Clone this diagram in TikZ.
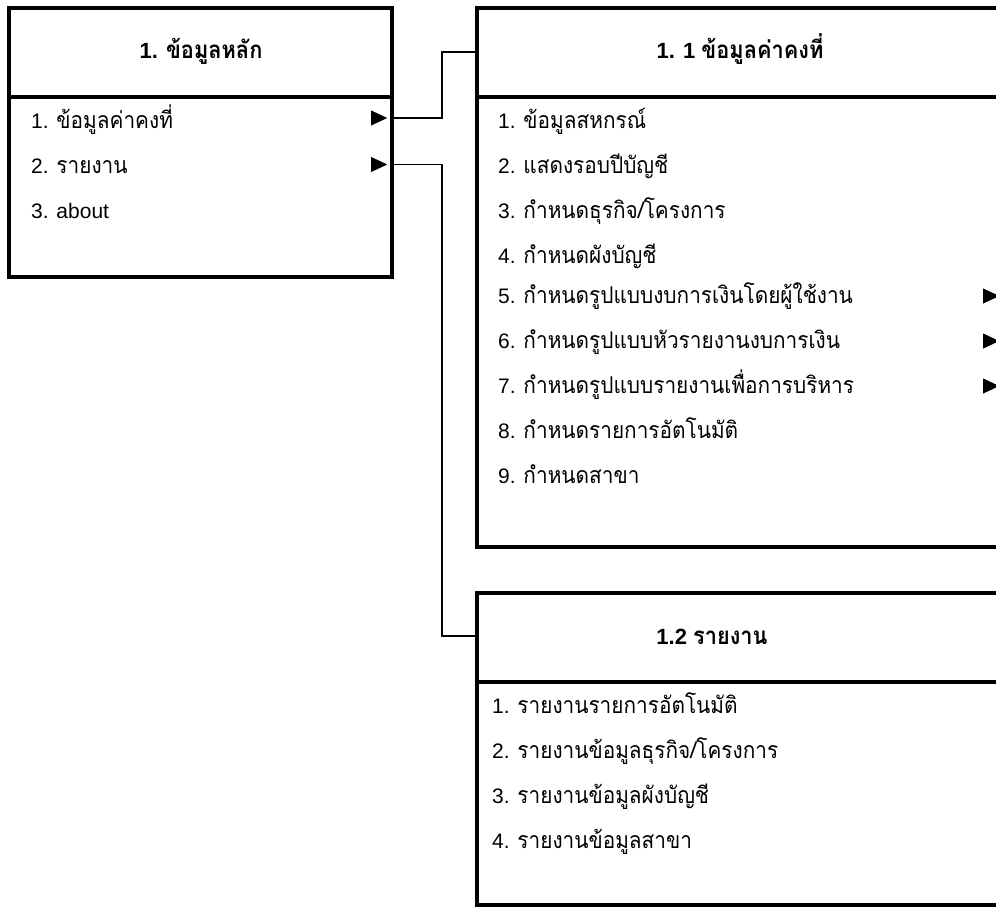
\documentclass[tikz,border=0pt]{standalone}
\usepackage{fontspec}
\setmainfont{Liberation Sans}
\newfontfamily\thaifont[Script=Thai,Scale=1.1,FakeStretch=0.9]{Loma}
\newcommand\tx[1]{{\thaifont #1}}
\usetikzlibrary{shapes.geometric}
\begin{document}
\begin{tikzpicture}[x=1pt,y=-1pt,
  frame/.style={draw,line width=3.2pt,inner sep=0pt},
  sepline/.style={line width=3.2pt},
  item/.style={anchor=base west,inner sep=0pt,font=\fontsize{21}{25}\selectfont},
  title/.style={anchor=base,inner sep=0pt,font=\fontsize{22}{26}\selectfont\bfseries},
  tri/.style={isosceles triangle,isosceles triangle stretches,fill=black,draw=none,inner sep=0pt,minimum width=15pt,minimum height=16pt,shape border rotate=0},
  conn/.style={line width=1.7pt}]
\useasboundingbox (0,0) rectangle (996,907);
\clip (0,0) rectangle (996,907);
% boxes
\node[frame,minimum width=383pt,minimum height=269pt] (m) at (200.5,142.5) {};
\node[frame,minimum width=528pt,minimum height=539pt] (k) at (741,277.5) {};
\node[frame,minimum width=528pt,minimum height=312pt] (r) at (741,749) {};
\draw[sepline] (m.west |- 0,97) -- (m.east |- 0,97);
\draw[sepline] (k.west |- 0,97) -- (k.east |- 0,97);
\draw[sepline] (r.west |- 0,682) -- (r.east |- 0,682);
% titles
\node[title] (mt) at (201,59) {1. \tx{ข้อมูลหลัก}};
\node[title] (kt) at (740,59) {1. 1 \tx{ข้อมูลค่าคงที่}};
\node[title] (rt) at (712,644) {1.2 \tx{รายงาน}};
% box 1 items
\node[item] (m1) at (31,128) {1. \tx{ข้อมูลค่าคงที่}};
\node[item] (m2) at (31,173) {2. \tx{รายงาน}};
\node[item] (m3) at (31,218) {3. about};
\node[tri] (a1) at (376,118) {};
\node[tri] (a2) at (376,164.5) {};
% box 2 items
\node[item] (k1) at (498,128) {1. \tx{ข้อมูลสหกรณ์}};
\node[item] (k2) at (498,173) {2. \tx{แสดงรอบปีบัญชี}};
\node[item] (k3) at (498,218.5) {3. \tx{กำหนดธุรกิจ/โครงการ}};
\node[item] (k4) at (498,263.5) {4. \tx{กำหนดผังบัญชี}};
\node[item] (k5) at (498,303.5) {5. \tx{กำหนดรูปแบบงบการเงินโดยผู้ใช้งาน}};
\node[item] (k6) at (498,348.5) {6. \tx{กำหนดรูปแบบหัวรายงานงบการเงิน}};
\node[item] (k7) at (498,393.5) {7. \tx{กำหนดรูปแบบรายงานเพื่อการบริหาร}};
\node[item] (k8) at (498,438.5) {8. \tx{กำหนดรายการอัตโนมัติ}};
\node[item] (k9) at (498,483.5) {9. \tx{กำหนดสาขา}};
\node[tri] (b5) at (988,296) {};
\node[tri] (b6) at (988,341) {};
\node[tri] (b7) at (988,386) {};
% box 3 items
\node[item] (r1) at (492,713) {1. \tx{รายงานรายการอัตโนมัติ}};
\node[item] (r2) at (492,758) {2. \tx{รายงานข้อมูลธุรกิจ/โครงการ}};
\node[item] (r3) at (492,803) {3. \tx{รายงานข้อมูลผังบัญชี}};
\node[item] (r4) at (492,848) {4. \tx{รายงานข้อมูลสาขา}};
% connectors
\coordinate (j1) at (442,52);
\coordinate (j2) at (442,636);
\draw[conn] (m.east |- a1.center) -| (j1) -- (k.west |- j1);
\draw[conn] (m.east |- a2.center) -| (j2) -- (r.west |- j2);
\end{tikzpicture}
\end{document}
